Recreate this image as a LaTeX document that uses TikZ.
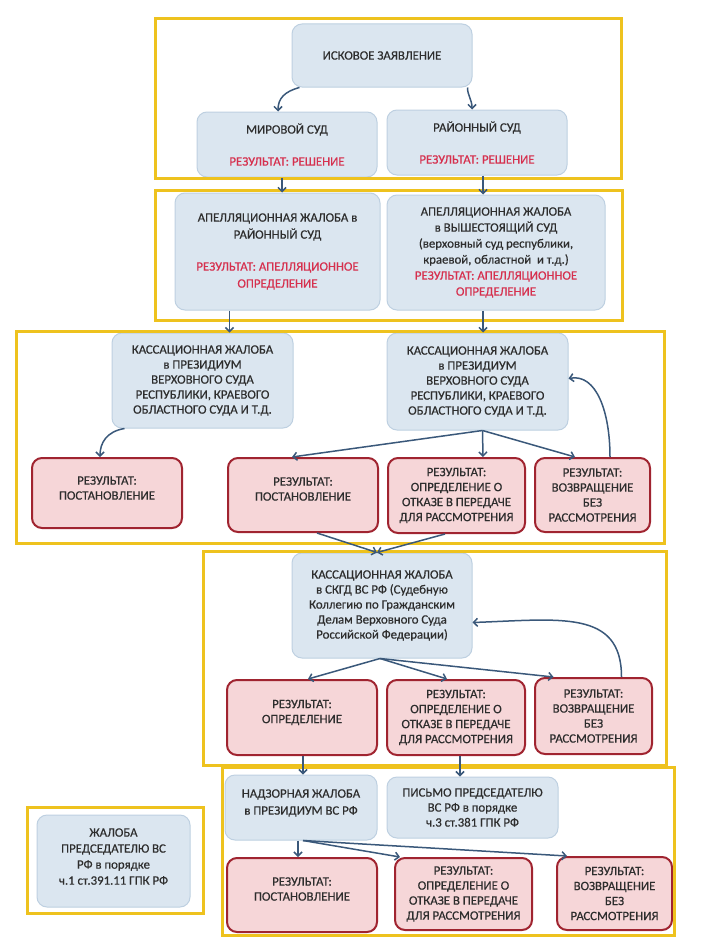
\documentclass[tikz,border=0pt]{standalone}
\usepackage{fontspec}
\setmainfont{Carlito}[FakeBold=0.5]
\usetikzlibrary{arrows.meta}
\definecolor{framecol}{RGB}{238,194,30}
\definecolor{bluefill}{RGB}{219,230,240}
\definecolor{blueline}{RGB}{190,208,225}
\definecolor{redfill}{RGB}{246,214,216}
\definecolor{redline}{RGB}{160,36,48}
\definecolor{rescol}{RGB}{214,48,78}
\definecolor{arrcol}{RGB}{58,88,122}
\definecolor{txtcol}{RGB}{45,45,45}
\newcommand\res[1]{\textcolor{rescol}{#1}}
\begin{document}
\begin{tikzpicture}[x=1pt,y=-1pt,
  every node/.style={font=\fontsize{12.8}{15}\selectfont, text=txtcol, align=center, inner sep=0pt},
  bluebox/.style={draw=blueline, line width=1pt, fill=bluefill, rounded corners=10pt},
  redbox/.style={draw=redline, line width=2pt, fill=redfill, rounded corners=10pt},
  frame/.style={draw=framecol, line width=3pt},
  arr/.style={draw=arrcol, line width=1.5pt, -{Straight Barb[length=4pt,width=8pt,line width=1.5pt]}},
  ln/.style={draw=arrcol, line width=1.5pt}]
\useasboundingbox (0,0) rectangle (704,950);
\fill[white] (0,0) rectangle (704,950);

% ---------- section 1
\node[bluebox, minimum width=180pt, minimum height=63pt] (isk) at (382,55.5) {ИСКОВОЕ ЗАЯВЛЕНИЕ};
\node[bluebox, minimum width=180pt, minimum height=65pt] (mir) at (287,144.5) {МИРОВОЙ СУД\\[17pt]\res{РЕЗУЛЬТАТ: РЕШЕНИЕ}};
\node[bluebox, minimum width=180pt, minimum height=65pt] (ray) at (477,142.5) {РАЙОННЫЙ СУД\\[17pt]\res{РЕЗУЛЬТАТ: РЕШЕНИЕ}};

% ---------- section 2
\node[bluebox, minimum width=205pt, minimum height=117pt] (ap1) at (277.5,251.5) {АПЕЛЛЯЦИОННАЯ ЖАЛОБА в\\[2pt]РАЙОННЫЙ СУД\\[17pt]\res{РЕЗУЛЬТАТ: АПЕЛЛЯЦИОННОЕ}\\[2pt]\res{ОПРЕДЕЛЕНИЕ}};
\node[bluebox, minimum width=218pt, minimum height=115pt] (ap2) at (496,252.5) {АПЕЛЛЯЦИОННАЯ ЖАЛОБА\\[1pt]в ВЫШЕСТОЯЩИЙ СУД\\[1pt](верховный суд республики,\\[1pt]краевой, областной \ и т.д.)\\[1pt]\res{РЕЗУЛЬТАТ: АПЕЛЛЯЦИОННОЕ}\\[1pt]\res{ОПРЕДЕЛЕНИЕ}};

% ---------- section 3
\node[bluebox, minimum width=181pt, minimum height=95pt] (k1) at (202.5,380.5) {КАССАЦИОННАЯ ЖАЛОБА\\в ПРЕЗИДИУМ\\ВЕРХОВНОГО СУДА\\РЕСПУБЛИКИ, КРАЕВОГО\\ОБЛАСТНОГО СУДА И Т.Д.};
\node[bluebox, minimum width=181pt, minimum height=97pt] (k2) at (477.5,381.5) {КАССАЦИОННАЯ ЖАЛОБА\\в ПРЕЗИДИУМ\\ВЕРХОВНОГО СУДА\\РЕСПУБЛИКИ, КРАЕВОГО\\ОБЛАСТНОГО СУДА И Т.Д.};
\node[redbox, minimum width=150pt, minimum height=70pt] (r31) at (107,493) {РЕЗУЛЬТАТ:\\ПОСТАНОВЛЕНИЕ\\[-5pt]\mbox{}};
\node[redbox, minimum width=150pt, minimum height=74pt] (r32) at (303,495) {РЕЗУЛЬТАТ:\\ПОСТАНОВЛЕНИЕ\\[-3pt]\mbox{}};
\node[redbox, minimum width=137pt, minimum height=75pt] (r33) at (456.5,495.5) {РЕЗУЛЬТАТ:\\ОПРЕДЕЛЕНИЕ О\\ОТКАЗЕ В ПЕРЕДАЧЕ\\ДЛЯ РАССМОТРЕНИЯ};
\node[redbox, minimum width=115pt, minimum height=74pt] (r34) at (592.5,495) {РЕЗУЛЬТАТ:\\ВОЗВРАЩЕНИЕ\\БЕЗ\\РАССМОТРЕНИЯ};

% ---------- section 4
\node[bluebox, minimum width=180pt, minimum height=105pt] (s) at (382,605.5) {КАССАЦИОННАЯ ЖАЛОБА\\в СКГД ВС РФ (Судебную\\Коллегию по Гражданским\\Делам Верховного Суда\\Российской Федерации)};
\node[redbox, minimum width=150pt, minimum height=75pt] (r41) at (302,717.5) {РЕЗУЛЬТАТ:\\ОПРЕДЕЛЕНИЕ\\[-3pt]\mbox{}};
\node[redbox, minimum width=138pt, minimum height=75pt] (r42) at (456,717.5) {РЕЗУЛЬТАТ:\\ОПРЕДЕЛЕНИЕ О\\ОТКАЗЕ В ПЕРЕДАЧЕ\\ДЛЯ РАССМОТРЕНИЯ};
\node[redbox, minimum width=117pt, minimum height=76pt] (r43) at (593.5,716) {РЕЗУЛЬТАТ:\\ВОЗВРАЩЕНИЕ\\БЕЗ\\РАССМОТРЕНИЯ};

% ---------- section 5
\node[bluebox, minimum width=152pt, minimum height=65pt] (n) at (301,807.5) {НАДЗОРНАЯ ЖАЛОБА\\[2pt]в ПРЕЗИДИУМ ВС РФ\\[-4pt]\mbox{}};
\node[bluebox, minimum width=171pt, minimum height=61pt] (p) at (472.5,807.5) {ПИСЬМО ПРЕДСЕДАТЕЛЮ\\ВС РФ в порядке\\ч.3 ст.381 ГПК РФ};
\node[redbox, minimum width=150pt, minimum height=74pt] (r51) at (302,895) {РЕЗУЛЬТАТ:\\ПОСТАНОВЛЕНИЕ\\[-3pt]\mbox{}};
\node[redbox, minimum width=137pt, minimum height=72pt] (r52) at (463.5,894) {РЕЗУЛЬТАТ:\\ОПРЕДЕЛЕНИЕ О\\ОТКАЗЕ В ПЕРЕДАЧЕ\\ДЛЯ РАССМОТРЕНИЯ};
\node[redbox, minimum width=115pt, minimum height=73pt] (r53) at (614.5,893.5) {РЕЗУЛЬТАТ:\\ВОЗВРАЩЕНИЕ\\БЕЗ\\РАССМОТРЕНИЯ};
\node[bluebox, minimum width=153pt, minimum height=92pt] (lft) at (113.5,861) {ЖАЛОБА\\[1pt]ПРЕДСЕДАТЕЛЮ ВС\\[1pt]РФ в порядке\\[1pt]ч.1 ст.391.11 ГПК РФ\\[-6pt]\mbox{}};

% ---------- frames
\draw[frame] (155,19) rectangle (621,178);
\draw[frame] (155,190) rectangle (622,320);
\draw[frame] (16,331) rectangle (664,543);
\draw[frame] (203,551) rectangle (666,765);
\draw[frame] (222,767) rectangle (674,935);
\draw[frame] (27,807) rectangle (203,913);

% ---------- connectors
\draw[arr] ([xshift=8pt]isk.south west) .. controls +(-15,4) and +(0,-13) .. ([xshift=-9pt]mir.north);
\draw[arr] ([xshift=-5pt]isk.south east) .. controls +(0,8) and +(0,-10) .. ([xshift=-5pt]ray.north);
\draw[arr] ([xshift=-5pt]mir.south) -- ([xshift=-5pt]mir.south |- ap1.north);
\draw[arr] ([xshift=6pt]ray.south) -- ([xshift=6pt]ray.south |- ap2.north);
\draw[arr] ([xshift=-48pt]ap1.south) -- ([xshift=-48pt]ap1.south |- k1.north);
\draw[arr] ([xshift=-13pt]ap2.south) -- ([xshift=-13pt]ap2.south |- k2.north);

\draw[arr] ([xshift=13pt]k1.south west) .. controls +(-18,3) and +(0,-14) .. ([xshift=-7pt]r31.north);
\draw[arr] ([xshift=5pt]k2.south) -- ([xshift=-11pt]r32.north);
\draw[arr] ([xshift=5pt]k2.south) -- ([xshift=26.5pt]r33.north);
\draw[arr] ([xshift=5pt]k2.south) -- ([xshift=-17.5pt]r34.north);
\draw[arr] ([xshift=17.5pt]r34.north) .. controls +(0,-45) and +(28,-5) .. ([yshift=3pt]k2.east);
\draw[arr] ([xshift=14pt]r32.south) -- ([xshift=-5pt]s.north);
\draw[arr] ([xshift=-11.5pt]r33.south) -- ([xshift=-5pt]s.north);

\draw[arr] ([xshift=-2pt]s.south) -- ([xshift=6pt]r41.north);
\draw[arr] ([xshift=-2pt]s.south) -- ([xshift=-9pt]r42.north);
\draw[arr] ([xshift=-2pt]s.south) -- ([xshift=-40pt]r43.north);
\draw[arr] ([xshift=28pt]r43.north) .. controls +(0,-68) and +(87,-3) .. ([yshift=-17pt]s.east);

\draw[arr] ([xshift=1pt]r41.south) -- ([xshift=1pt]r41.south |- n.north);
\draw[arr] ([xshift=4pt]r42.south) -- ([xshift=4pt]r42.south |- p.north);

\draw[arr] ([xshift=-3pt]n.south) -- ([xshift=-4pt]r51.north);
\draw[arr] ([xshift=2pt]n.south) -- ([xshift=-63.5pt]r52.north);
\draw[arr] ([xshift=2pt]n.south) -- ([xshift=-47.5pt]r53.north);
\end{tikzpicture}
\end{document}
